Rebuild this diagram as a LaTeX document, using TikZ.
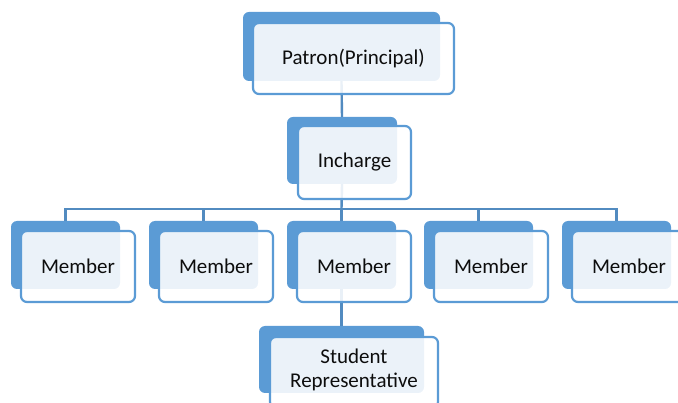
\documentclass[tikz,border=0pt]{standalone}
\usepackage{fontspec}
\setmainfont{Carlito}
\definecolor{acc}{HTML}{5B9BD5}
\definecolor{txt}{HTML}{0D0D0D}
\begin{document}
\begin{tikzpicture}[x=1pt,y=-1pt,
  backbox/.style={fill=acc, rounded corners=6pt, inner sep=0pt, minimum width=#1},
  frontbox/.style={draw=acc, line width=2.2pt, rounded corners=6pt, fill=white, fill opacity=0.88, text opacity=1, inner sep=0pt, minimum width=#1, text=txt, font=\fontsize{21}{24}\selectfont, align=center},
  conn/.style={draw=acc!90!black, line width=2.4pt}]
\useasboundingbox (0,0) rectangle (678,403);
% back boxes
\node[backbox=197pt, minimum height=69pt] (b0) at (341.5,46.5) {};
\node[backbox=110pt, minimum height=67pt] (b1) at (342,150.5) {};
\foreach \i/\x in {1/65.5,2/203.5,3/341.5,4/478.5,5/616.5}{
  \node[backbox=109pt, minimum height=68pt] (m\i) at (\x,255) {};
}
\node[backbox=165pt, minimum height=67pt] (s) at (341.5,359.5) {};
% connectors
\coordinate (bus) at (341.5,209);
\draw[conn] (b0.south) -- (b1.north);
\draw[conn] (b1.south) -- (bus);
\foreach \i in {1,2,3,4,5}{
  \draw[conn] (m\i.north) |- (bus);
}
\draw[conn] (m3.south) -- (s.north);
% front boxes
\node[frontbox=201pt, minimum height=71pt] (f0) at (353.5,58.5) {Patron(Principal)};
\node[frontbox=113pt, minimum height=73pt] (f1) at (354.5,162.5) {Incharge};
\foreach \i/\x in {1/78,2/216,3/354,4/491,5/629}{
  \node[frontbox=114pt, minimum height=71pt] (fm\i) at (\x,266.5) {Member};
}
\node[frontbox=168pt, minimum height=71pt] (fs) at (354,372.5) {};
\node[text=txt, font=\fontsize{21}{24}\selectfont, align=center, inner sep=0pt] (st) at (354,370) {Student\\Representative};
\end{tikzpicture}
\end{document}
